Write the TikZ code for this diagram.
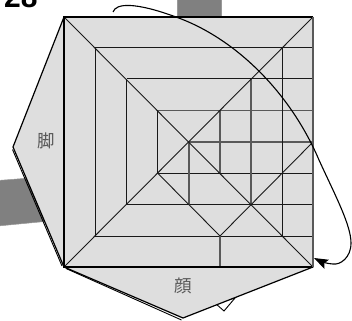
\documentclass[tikz,border=0pt]{standalone}
\usepackage{fontspec}
\setmainfont{Liberation Sans}
\newfontfamily\cjk{Noto Sans CJK JP}
\usetikzlibrary{arrows.meta}

\begin{document}
\begin{tikzpicture}[
    x=1pt, y=-1pt,
    paper/.style={draw=black, fill=black!13, line width=1.2pt, line join=round},
    crease/.style={draw=black!90, line width=1pt},
    soft/.style={draw=black!65, line width=1.05pt},
    turn/.style={-{Stealth[length=14pt, width=10pt, inset=2.5pt]}, line width=1.1pt},
    word/.style={font=\cjk\fontsize{17.5}{17.5}\selectfont, text=black!65, inner sep=0pt},
    band/.style={fill=black!50, draw=black!40, line width=0.5pt}
]
\useasboundingbox (0,0) rectangle (352,320);

% Strip behind the paper
\fill[band] (177,-2) rectangle (221,18);
\fill[band] (-2,180.5) -- (30,178) -- (50,221) -- (-2,226) -- cycle;

% Flaps
\filldraw[draw=black, fill=white, line width=0.9pt] (215,303) -- (224,311) -- (235,298) -- cycle;
\draw[line width=0.9pt] (12.5,149.5) -- (62,266);
\draw[line width=0.9pt] (66,268.5) -- (181.5,320);
\filldraw[paper] (64,17) -- (13,147) -- (64,267) -- (183,318) -- (313,267) -- cycle;
\fill[black!13] (64,17) rectangle (313,267);

% Corners
\coordinate (tl) at (64,17);
\coordinate (tr) at (313,17);
\coordinate (br) at (313,267);
\coordinate (bl) at (64,267);

% Rings
\foreach \x/\y/\w in {95/48/236, 126.5/79/204.5} {
  \draw[crease] (\x,\y) -- (313,\y);
  \draw[crease] (\x,\y) -- (\x,\w);
  \draw[crease] (\x,\w) -- (313,\w);
}
\draw[crease] (157.5,110.5) -- (157.5,173) -- (313,173);
\draw[soft] (157.5,110.5) -- (313,110.5);
\draw[soft] (189,142) -- (313,142);

% Verticals
\draw[crease] (282,48) -- (282,236);
\draw[soft] (251,79) -- (251,204.5);
\draw[soft] (220,110.5) -- (220,173);
\draw[soft] (189,142) -- (189,204.5);
\draw[soft] (220,236) -- (220,267);

% Diagonals
\draw[crease, line width=0.9pt] (tl) -- (br);
\draw[crease, line width=0.9pt] (bl) -- (tr);
\draw[crease, line width=0.9pt] (157.5,173) -- (220,236) -- (313,142);

% Outline of the square
\draw[line width=1.2pt] (tr) -- (tl) -- (bl) -- (br);
\draw[soft, line width=1.2pt] (tr) -- (br);

\node[word] (foot) at (46,141) {脚};
\node[word] (face) at (183,286) {顔};
\node[font=\bfseries\fontsize{30}{30}\selectfont, anchor=base west, inner sep=0pt] (num) at (4,7.5) {28};

% Turn over
\coordinate (from) at (113,12);
\coordinate (to) at (314,258);
\draw[turn] (from) .. controls (116,3) and (135,2) .. (176,17)
  .. controls (235,38) and (290,92) .. (319,160)
  .. controls (335,195) and (351,225) .. (351,243)
  .. controls (351,258) and (340,265) .. (333,264)
  .. controls (328,264) and (320,261) .. (to);

\end{tikzpicture}
\end{document}
